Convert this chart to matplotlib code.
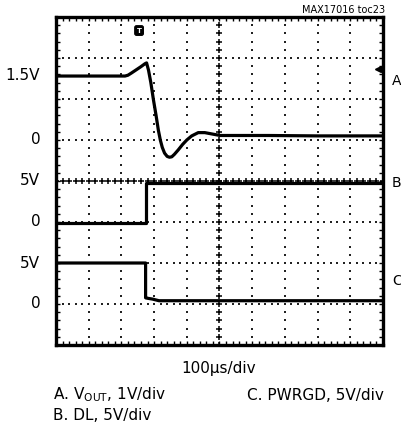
import matplotlib
matplotlib.use("Agg")
import matplotlib.pyplot as plt
import numpy as np

# trace A: VOUT (1V/div, ground at division 5)
a_t = [0, 2.11, 2.2, 2.3, 2.45, 2.6, 2.72, 2.77, 2.83, 2.9, 2.98, 3.06, 3.13, 3.19, 3.25, 3.32,
       3.4, 3.47, 3.54, 3.62, 3.74, 3.87, 4.0, 4.15, 4.35, 4.55, 4.75, 5.02, 6.5, 8.0, 10]
a_v = [1.56, 1.56, 1.58, 1.63, 1.71, 1.79, 1.86, 1.88, 1.7, 1.4, 0.98, 0.6, 0.24, 0.0, -0.18, -0.32,
       -0.40, -0.42, -0.41, -0.35, -0.24, -0.11, 0.0, 0.1, 0.18, 0.18, 0.15, 0.11, 0.11, 0.10, 0.10]
# trace B: DL (5V/div, ground at division 3)
b_t = [0, 2.74, 2.74, 10]
b_v = [-0.15, -0.15, 4.7, 4.7]
# trace C: PWRGD (5V/div, ground at division 1)
c_t = [0, 2.74, 2.74, 2.8, 2.95, 3.15, 10]
c_v = [5.0, 5.0, 0.75, 0.7, 0.6, 0.4, 0.4]

left_labels = ["1.5V", "0", "5V", "0", "5V", "0"]
left_pos = [6.58, 5, 4, 3, 2, 1]
trace_names = ["A", "B", "C"]
trace_name_pos = [6.45, 3.95, 1.55]

FONT = dict(family="DejaVu Sans")

fig = plt.figure(figsize=(4.01, 4.24), dpi=100)
ax = fig.add_axes([56/401, 1 - 345/424, 327/401, 328/424])
ax.set_xlim(0, 10)
ax.set_ylim(0, 8)

# graticule: dotted division lines
sub = np.arange(0, 8.01, 0.2)
for x in range(1, 10):
    if x == 5:
        continue
    ax.plot([x]*len(sub), sub, ls="none", marker="s", ms=1.5, color="#222222", mew=0)
subx = np.arange(0, 10.01, 0.2)
for y in range(1, 8):
    if y == 4:
        continue
    ax.plot(subx, [y]*len(subx), ls="none", marker="s", ms=1.5, color="#222222", mew=0)
# centre axes with sub-division crosses
ax.plot([5]*len(sub), sub, ls="none", marker="+", ms=5, mew=1.1, color="black")
ax.plot(subx, [4]*len(subx), ls="none", marker="+", ms=5, mew=1.1, color="black")

ax.set_xticks(range(11))
ax.set_yticks(range(9))
ax.set_xticks(subx, minor=True)
ax.set_yticks(sub, minor=True)
ax.tick_params(which="both", direction="in", top=True, right=True,
               labelbottom=False, labelleft=False, length=3, width=1)
for s in ax.spines.values():
    s.set_linewidth(2.4)

# traces
ax.plot(a_t, 5 + np.array(a_v), color="black", lw=2.3, solid_joinstyle="round")
ax.plot(b_t, 3 + np.array(b_v) / 5, color="black", lw=2.3)
ax.plot(c_t, 1 + np.array(c_v) / 5, color="black", lw=2.3)

# trigger markers
ax.text(2.54, 7.67, "T", color="white", fontsize=5, fontweight="bold", ha="center", va="center",
        bbox=dict(boxstyle="round,pad=0.25", fc="black", ec="black"))
ax.plot([9.86], [6.73], marker="<", ms=5, color="black", clip_on=False)

for lab, y in zip(left_labels, left_pos):
    ax.text(-0.48, y, lab, ha="right", va="center", fontsize=11, clip_on=False, **FONT)
for lab, y in zip(trace_names, trace_name_pos):
    ax.text(10.27, y, lab, ha="left", va="center", fontsize=10, clip_on=False, **FONT)

fig.text(385/401, 1 - 10/424, "MAX17016 toc23", ha="right", va="center", fontsize=7, **FONT)
fig.text(219/401, 1 - 368/424, "100\u00b5s/div", ha="center", va="center", fontsize=11, **FONT)
fig.text(53/401, 1 - 395/424, r"A. V$_{\mathregular{OUT}}$, 1V/div", ha="left", va="center", fontsize=11, **FONT)
fig.text(53/401, 1 - 415/424, "B. DL, 5V/div", ha="left", va="center", fontsize=11, **FONT)
fig.text(384/401, 1 - 395/424, "C. PWRGD, 5V/div", ha="right", va="center", fontsize=11, **FONT)

fig.savefig("out.png", dpi=100)
